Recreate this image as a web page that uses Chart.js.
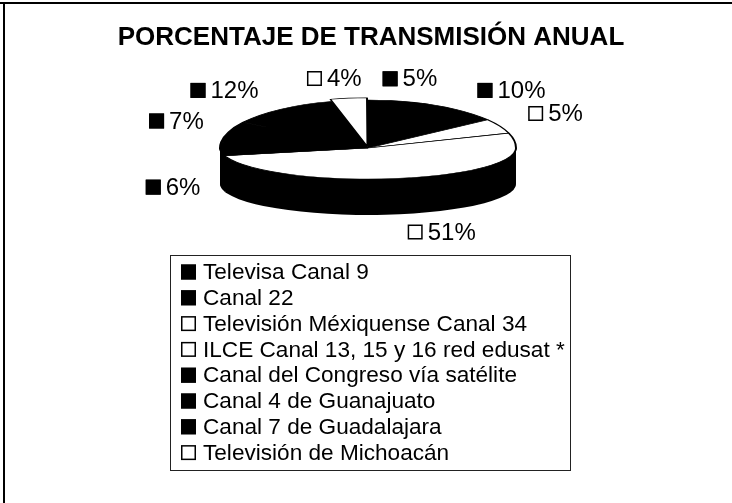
<!DOCTYPE html>
<html>
<head>
<meta charset="utf-8">
<script src="https://cdn.jsdelivr.net/npm/chart.js@4.4.1/dist/chart.umd.min.js"></script>
<style>
  html, body { margin: 0; padding: 0; background: #fff; }
  #wrap { width: 732px; height: 503px; }
</style>
</head>
<body>
<div id="wrap"><canvas id="transmisionChart" width="732" height="503"></canvas></div>
<script>
// Data for annual transmission share
const canales = [
    'Televisa Canal 9',
    'Canal 22',
    'Televisión Méxiquense Canal 34',
    'ILCE Canal 13, 15 y 16 red edusat *',
    'Canal del Congreso vía satélite',
    'Canal 4 de Guanajuato',
    'Canal 7 de Guadalajara',
    'Televisión de Michoacán'
];
const porcentajes = [5, 10, 5, 51, 6, 7, 12, 4];

// styles
const rellenos = ['#000', '#000', '#fff', '#fff', '#000', '#000', '#000', '#fff'];
const separados = [0, 0, 0, 0, 0, 0, 0, 16];

// tilted pie with a bit of perspective: back half taller than front half
const PIE_X = 368, PIE_Y = 148, RADIUS = 148;
const K_BACK = 48 / RADIUS, K_FRONT = 31 / RADIUS, DEPTH = 36;
const FONT = "'Liberation Sans', Arial, sans-serif";

function eachArc(chart, fn) {
    chart.getDatasetMeta(0).data.forEach((arc, i) => fn(arc, i));
}

function tilt(chart, k) {
    const ctx = chart.ctx;
    const first = chart.getDatasetMeta(0).data[0];
    ctx.translate(PIE_X, PIE_Y);
    ctx.scale(1, k);
    ctx.translate(-first.x, -first.y);
}

function square(ctx, x, y, fill) {
    ctx.fillStyle = fill;
    ctx.fillRect(x, y - 7.5, 15, 15);
    ctx.strokeStyle = '#000';
    ctx.lineWidth = 1.5;
    ctx.strokeRect(x + 0.75, y - 6.75, 13.5, 13.5);
}

const pie3d = {
    id: 'pie3d',
    beforeDatasetsDraw(chart) {
        const ctx = chart.ctx;
        // side wall: black copies of each slice stacked under the top face
        ctx.save();
        tilt(chart, K_FRONT);
        ctx.fillStyle = '#000';
        for (let d = DEPTH; d > 0; d--) {
            eachArc(chart, (arc) => {
                const mid = (arc.startAngle + arc.endAngle) / 2;
                const off = (arc.options.offset || 0) / 4;
                const x = arc.x + Math.cos(mid) * off;
                const y = arc.y + Math.sin(mid) * off + d / K_FRONT;
                ctx.beginPath();
                ctx.moveTo(x, y);
                ctx.arc(x, y, arc.outerRadius, arc.startAngle, arc.endAngle);
                ctx.closePath();
                ctx.fill();
            });
        }
        ctx.restore();
        // back half of the top face (drawn by chart.js)
        ctx.save();
        ctx.beginPath();
        ctx.rect(0, 0, chart.width, PIE_Y);
        ctx.clip();
        tilt(chart, K_BACK);
    },
    afterDatasetsDraw(chart) {
        const ctx = chart.ctx;
        ctx.restore();
        // front half of the top face
        ctx.save();
        ctx.beginPath();
        ctx.rect(0, PIE_Y, chart.width, chart.height - PIE_Y);
        ctx.clip();
        tilt(chart, K_FRONT);
        chart.getDatasetMeta(0).controller.draw();
        ctx.restore();
    },
    afterDraw(chart) {
        const ctx = chart.ctx;
        ctx.save();
        ctx.textBaseline = 'middle';
        ctx.textAlign = 'left';

        // percentage labels round the pie
        ctx.font = '24px ' + FONT;
        eachArc(chart, (arc, i) => {
            const mid = (arc.startAngle + arc.endAngle) / 2;
            const c = Math.cos(mid), s = Math.sin(mid);
            const cx = PIE_X + (195 + 75 * s * s) * c;
            const cy = s < 0 ? PIE_Y - 5 + 65 * s : PIE_Y + 50 * s + DEPTH;
            const txt = chart.data.datasets[0].data[i] + '%';
            const w = 20 + ctx.measureText(txt).width;
            const left = cx - w / 2;
            square(ctx, left, cy, rellenos[i]);
            ctx.fillStyle = '#000';
            ctx.fillText(txt, left + 20, cy + 1);
        });

        // legend box
        ctx.strokeStyle = '#222';
        ctx.lineWidth = 1;
        ctx.strokeRect(170.5, 255.5, 400, 215);
        ctx.font = '22.6px ' + FONT;
        chart.data.labels.forEach((lab, i) => {
            const y = 272 + i * 25.8;
            square(ctx, 181, y, rellenos[i]);
            ctx.fillStyle = '#000';
            ctx.fillText(lab, 203, y + 1);
        });

        // outer frame (top and left edges)
        ctx.fillStyle = '#000';
        ctx.fillRect(0, 2, 732, 2);
        ctx.fillRect(3, 2, 2, 501);
        ctx.restore();
    }
};

const ctx = document.getElementById('transmisionChart').getContext('2d');
const transmisionChart = new Chart(ctx, {
    type: 'pie',
    data: {
        labels: canales,
        datasets: [{
            data: porcentajes,
            backgroundColor: rellenos,
            borderColor: '#000',
            borderWidth: 2,
            offset: separados,
            clip: false
        }]
    },
    options: {
        responsive: false,
        animation: false,
        events: [],
        radius: RADIUS,
        layout: { padding: { left: 10 } },
        plugins: {
            legend: { display: false },
            tooltip: { enabled: false },
            title: {
                display: true,
                text: 'PORCENTAJE DE TRANSMISIÓN ANUAL',
                color: '#000',
                font: { family: FONT, size: 26, weight: 'bold' },
                padding: { top: 22, bottom: 10 }
            }
        }
    },
    plugins: [pie3d]
});
</script>
</body>
</html>
